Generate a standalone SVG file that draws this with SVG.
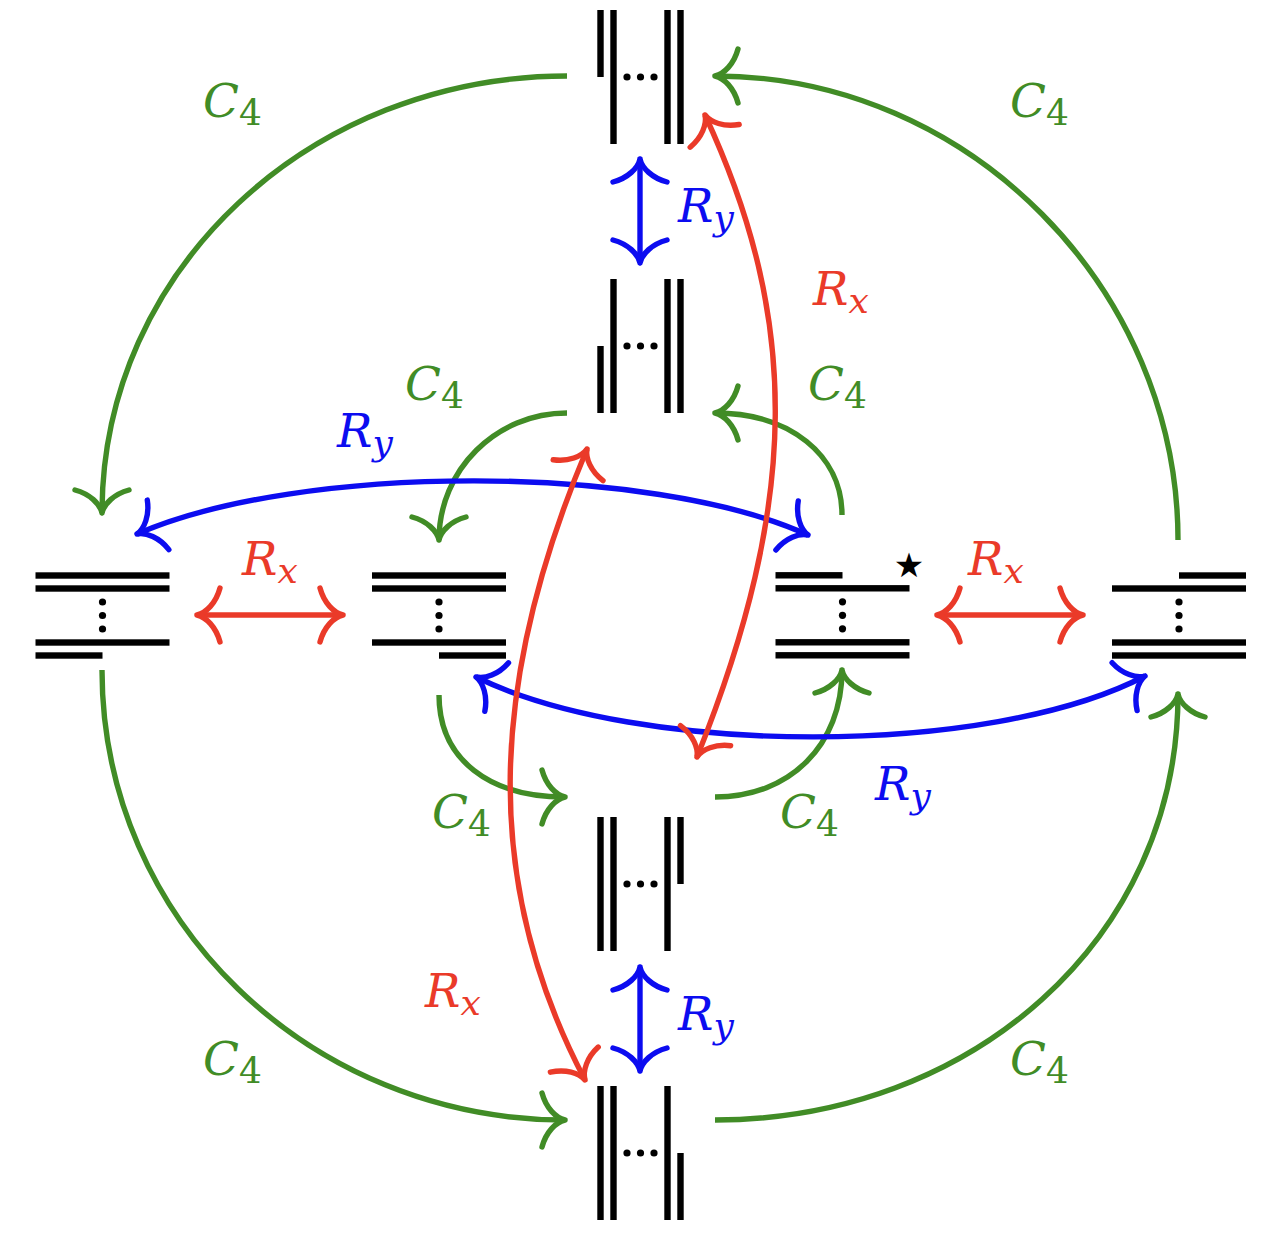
<svg xmlns="http://www.w3.org/2000/svg" width="1282" height="1240" viewBox="0 0 1282 1240">
<style>
.bar{fill:#000}
.dot{fill:#000}
.c{fill:none;stroke-width:5.4}
.g{stroke:#418c26}
.r{stroke:#ea3a29}
.b{stroke:#0c0cf0}
.lbl{font-family:"DejaVu Serif","Liberation Serif",serif;font-style:italic;font-size:47px}
.sub{font-style:normal;font-size:36px}
.subi{font-style:italic;font-size:36px}
.tg{fill:#418c26}
.tr{fill:#ea3a29}
.tb{fill:#0c0cf0}
</style>
<defs>
<marker id="ag" markerUnits="userSpaceOnUse" orient="auto-start-reverse" refX="0" refY="0" markerWidth="60" markerHeight="60" viewBox="-30 -30 60 60" overflow="visible">
<path d="M-23,-27 C-19,-12 -9,-2 0,0 M-23,27 C-19,12 -9,2 0,0" fill="none" stroke="#418c26" stroke-width="5.4" stroke-linecap="round"/>
</marker>
<marker id="ar" markerUnits="userSpaceOnUse" orient="auto-start-reverse" refX="0" refY="0" markerWidth="60" markerHeight="60" viewBox="-30 -30 60 60" overflow="visible">
<path d="M-23,-27 C-19,-12 -9,-2 0,0 M-23,27 C-19,12 -9,2 0,0" fill="none" stroke="#ea3a29" stroke-width="5.4" stroke-linecap="round"/>
</marker>
<marker id="ab" markerUnits="userSpaceOnUse" orient="auto-start-reverse" refX="0" refY="0" markerWidth="60" markerHeight="60" viewBox="-30 -30 60 60" overflow="visible">
<path d="M-23,-27 C-19,-12 -9,-2 0,0 M-23,27 C-19,12 -9,2 0,0" fill="none" stroke="#0c0cf0" stroke-width="5.4" stroke-linecap="round"/>
</marker>
</defs>
<rect width="1282" height="1240" fill="#ffffff"/>

<g id="connectors">
<path class="c g" d="M567,76 C310,76 102,270 102,513" marker-end="url(#ag)"/>
<path class="c g" d="M1178,540 C1178,290 970,76 715,76" marker-end="url(#ag)"/>
<path class="c g" d="M102,670 C102,920 310,1120 565,1120" marker-end="url(#ag)"/>
<path class="c g" d="M715,1120 C970,1120 1178,940 1178,694" marker-end="url(#ag)"/>
<path class="c g" d="M567,413 C496,413 439,470 439,540" marker-end="url(#ag)"/>
<path class="c g" d="M842,515 C842,455 790,413 715,413" marker-end="url(#ag)"/>
<path class="c g" d="M439,695 C439,760 490,797 565,797" marker-end="url(#ag)"/>
<path class="c g" d="M715,797 C790,797 842,745 842,670" marker-end="url(#ag)"/>
<path class="c b" d="M640,159 L640,263" marker-start="url(#ab)" marker-end="url(#ab)"/>
<path class="c b" d="M640,967 L640,1071" marker-start="url(#ab)" marker-end="url(#ab)"/>
<path class="c b" d="M137,534 C300,463 650,463 808,535" marker-start="url(#ab)" marker-end="url(#ab)"/>
<path class="c b" d="M476,677 C640,757 990,757 1145,676" marker-start="url(#ab)" marker-end="url(#ab)"/>
<path class="c r" d="M197,615 L343,615" marker-start="url(#ar)" marker-end="url(#ar)"/>
<path class="c r" d="M937,615 L1083,615" marker-start="url(#ar)" marker-end="url(#ar)"/>
<path class="c r" d="M705,115 C800,320 800,500 697,757" marker-start="url(#ar)" marker-end="url(#ar)"/>
<path class="c r" d="M587,449 C490,680 480,880 585,1080" marker-start="url(#ar)" marker-end="url(#ar)"/>
</g>

<g id="node-top" transform="translate(640.5,77)">
<rect class="bar" x="-43.2" y="-67" width="6.4" height="67"/>
<rect class="bar" x="-30.2" y="-67" width="6.4" height="134"/>
<rect class="bar" x="23.8" y="-67" width="6.4" height="134"/>
<rect class="bar" x="36.8" y="-67" width="6.4" height="134"/>
<circle class="dot" cx="-13.5" cy="0" r="3.6"/><circle class="dot" cx="0" cy="0" r="3.6"/><circle class="dot" cx="13.5" cy="0" r="3.6"/>
</g>
<g id="node-upper" transform="translate(640.5,346)">
<rect class="bar" x="-43.2" y="0" width="6.4" height="67"/>
<rect class="bar" x="-30.2" y="-67" width="6.4" height="134"/>
<rect class="bar" x="23.8" y="-67" width="6.4" height="134"/>
<rect class="bar" x="36.8" y="-67" width="6.4" height="134"/>
<circle class="dot" cx="-13.5" cy="0" r="3.6"/><circle class="dot" cx="0" cy="0" r="3.6"/><circle class="dot" cx="13.5" cy="0" r="3.6"/>
</g>
<g id="node-lower" transform="translate(640.5,884)">
<rect class="bar" x="-43.2" y="-67" width="6.4" height="134"/>
<rect class="bar" x="-30.2" y="-67" width="6.4" height="134"/>
<rect class="bar" x="23.8" y="-67" width="6.4" height="134"/>
<rect class="bar" x="36.8" y="-67" width="6.4" height="67"/>
<circle class="dot" cx="-13.5" cy="0" r="3.6"/><circle class="dot" cx="0" cy="0" r="3.6"/><circle class="dot" cx="13.5" cy="0" r="3.6"/>
</g>
<g id="node-bottom" transform="translate(640.5,1153)">
<rect class="bar" x="-43.2" y="-67" width="6.4" height="134"/>
<rect class="bar" x="-30.2" y="-67" width="6.4" height="134"/>
<rect class="bar" x="23.8" y="-67" width="6.4" height="134"/>
<rect class="bar" x="36.8" y="0" width="6.4" height="67"/>
<circle class="dot" cx="-13.5" cy="0" r="3.6"/><circle class="dot" cx="0" cy="0" r="3.6"/><circle class="dot" cx="13.5" cy="0" r="3.6"/>
</g>
<g id="node-left" transform="translate(102.5,615.5)">
<rect class="bar" x="-67" y="-43.2" width="134" height="6.4"/>
<rect class="bar" x="-67" y="-30.2" width="134" height="6.4"/>
<rect class="bar" x="-67" y="23.8" width="134" height="6.4"/>
<rect class="bar" x="-67" y="36.8" width="67" height="6.4"/>
<circle class="dot" cx="0" cy="-13.5" r="3.6"/><circle class="dot" cx="0" cy="0" r="3.6"/><circle class="dot" cx="0" cy="13.5" r="3.6"/>
</g>
<g id="node-midleft" transform="translate(439,615.5)">
<rect class="bar" x="-67" y="-43.2" width="134" height="6.4"/>
<rect class="bar" x="-67" y="-30.2" width="134" height="6.4"/>
<rect class="bar" x="-67" y="23.8" width="134" height="6.4"/>
<rect class="bar" x="0" y="36.8" width="67" height="6.4"/>
<circle class="dot" cx="0" cy="-13.5" r="3.6"/><circle class="dot" cx="0" cy="0" r="3.6"/><circle class="dot" cx="0" cy="13.5" r="3.6"/>
</g>
<g id="node-midright" transform="translate(842.5,615.3)">
<rect class="bar" x="-67" y="-43.2" width="67" height="6.4"/>
<rect class="bar" x="-67" y="-30.2" width="134" height="6.4"/>
<rect class="bar" x="-67" y="23.8" width="134" height="6.4"/>
<rect class="bar" x="-67" y="36.8" width="134" height="6.4"/>
<circle class="dot" cx="0" cy="-13.5" r="3.6"/><circle class="dot" cx="0" cy="0" r="3.6"/><circle class="dot" cx="0" cy="13.5" r="3.6"/>
<text x="66.5" y="-38" font-family="DejaVu Sans, sans-serif" font-size="34" text-anchor="middle" fill="#000">★</text>
</g>
<g id="node-right" transform="translate(1179,615.5)">
<rect class="bar" x="0" y="-43.2" width="67" height="6.4"/>
<rect class="bar" x="-67" y="-30.2" width="134" height="6.4"/>
<rect class="bar" x="-67" y="23.8" width="134" height="6.4"/>
<rect class="bar" x="-67" y="36.8" width="134" height="6.4"/>
<circle class="dot" cx="0" cy="-13.5" r="3.6"/><circle class="dot" cx="0" cy="0" r="3.6"/><circle class="dot" cx="0" cy="13.5" r="3.6"/>
</g>

<g id="labels">
<text class="lbl tg" x="203" y="117">C<tspan class="sub" dy="8">4</tspan></text>
<text class="lbl tg" x="1010" y="117">C<tspan class="sub" dy="8">4</tspan></text>
<text class="lbl tg" x="405" y="400">C<tspan class="sub" dy="8">4</tspan></text>
<text class="lbl tg" x="808" y="400">C<tspan class="sub" dy="8">4</tspan></text>
<text class="lbl tg" x="432" y="828">C<tspan class="sub" dy="8">4</tspan></text>
<text class="lbl tg" x="780" y="828">C<tspan class="sub" dy="8">4</tspan></text>
<text class="lbl tg" x="203" y="1075">C<tspan class="sub" dy="8">4</tspan></text>
<text class="lbl tg" x="1010" y="1075">C<tspan class="sub" dy="8">4</tspan></text>
<text class="lbl tb" x="678" y="222">R<tspan class="subi" dy="8">y</tspan></text>
<text class="lbl tb" x="337" y="447">R<tspan class="subi" dy="8">y</tspan></text>
<text class="lbl tb" x="875" y="800">R<tspan class="subi" dy="8">y</tspan></text>
<text class="lbl tb" x="678" y="1030">R<tspan class="subi" dy="8">y</tspan></text>
<text class="lbl tr" x="813" y="305">R<tspan class="subi" dy="8">x</tspan></text>
<text class="lbl tr" x="242" y="575">R<tspan class="subi" dy="8">x</tspan></text>
<text class="lbl tr" x="968" y="575">R<tspan class="subi" dy="8">x</tspan></text>
<text class="lbl tr" x="425" y="1007">R<tspan class="subi" dy="8">x</tspan></text>
</g>
</svg>
